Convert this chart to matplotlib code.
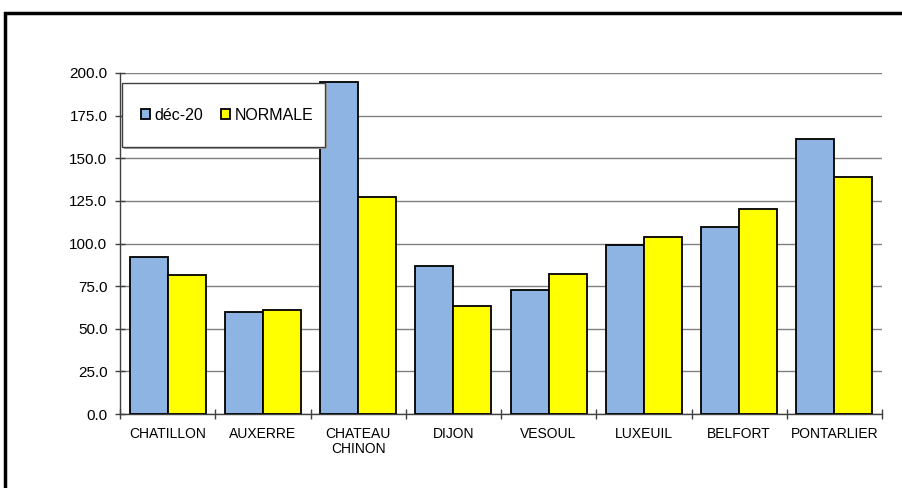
import matplotlib
matplotlib.use("Agg")
import matplotlib.pyplot as plt
import numpy as np
from matplotlib.patches import Rectangle
from matplotlib.ticker import FixedLocator, FormatStrFormatter

plt.rcParams['font.family'] = ['Liberation Sans', 'DejaVu Sans']

categories = ["CHATILLON", "AUXERRE", "CHATEAU\nCHINON", "DIJON", "VESOUL", "LUXEUIL", "BELFORT", "PONTARLIER"]
dec20 = [92.3, 59.8, 194.7, 86.8, 72.7, 99.3, 109.5, 161.5]
normale = [81.3, 61.0, 127.4, 63.3, 82.1, 104.0, 120.0, 139.2]
series_names = ["déc-20", "NORMALE"]
yticks = [0, 25, 50, 75, 100, 125, 150, 175, 200]

W, H = 902, 488
fig = plt.figure(figsize=(W / 100, H / 100), dpi=100)
ax = fig.add_axes([120 / W, 1 - 414 / H, (882 - 120) / W, (414 - 73) / H])

x = np.arange(len(categories))
bw = 0.4
ax.bar(x - bw / 2, dec20, bw, color="#8EB4E3", edgecolor="black", linewidth=1.3, label=series_names[0], zorder=3)
ax.bar(x + bw / 2, normale, bw, color="#FFFF00", edgecolor="black", linewidth=1.3, label=series_names[1], zorder=3)

ax.set_xlim(-0.5, len(categories) - 0.5)
ax.set_ylim(0, 200)
ax.set_yticks(yticks)
ax.yaxis.set_major_formatter(FormatStrFormatter("%.1f"))
ax.grid(axis="y", color="#808080", linewidth=1.0, zorder=0)
ax.set_axisbelow(True)

ax.set_xticks(x)
ax.set_xticklabels(categories, fontsize=10, linespacing=1.1)
ax.xaxis.set_minor_locator(FixedLocator(np.arange(-0.5, len(categories), 1.0)))
ax.tick_params(axis="x", which="major", length=0, pad=9)
ax.tick_params(axis="x", which="minor", direction="inout", length=7, width=1, color="#404040")
ax.tick_params(axis="y", direction="inout", length=7, width=1, color="#404040", labelsize=11, pad=5.5)

for s in ["top", "right"]:
    ax.spines[s].set_visible(False)
for s in ["left", "bottom"]:
    ax.spines[s].set_color("#404040")
    ax.spines[s].set_linewidth(1.0)

# legend box (drawn manually for exact padding)
bx0, bx1, by0, by1 = 122, 325, 83, 147
shadow = Rectangle(((bx0 + 1.5) / W, 1 - (by1 + 1.5) / H), (bx1 - bx0) / W, (by1 - by0) / H,
                   transform=fig.transFigure, facecolor="#A0A0A0", edgecolor="none", clip_on=False, zorder=5)
box = Rectangle((bx0 / W, 1 - by1 / H), (bx1 - bx0) / W, (by1 - by0) / H,
                transform=fig.transFigure, facecolor="white", edgecolor="#404040", linewidth=1.0,
                clip_on=False, zorder=5.5)
ax.add_patch(shadow)
ax.add_patch(box)

leg = ax.legend(loc="center", bbox_to_anchor=((bx0 + bx1) / 2 / W + 3.5 / W, 1 - (by0 + by1) / 2 / H),
                bbox_transform=fig.transFigure, ncol=2, fontsize=11.5,
                frameon=False, handlelength=0.58, handleheight=0.58, handletextpad=0.25,
                columnspacing=1.15, borderpad=0, borderaxespad=0)
leg.set_zorder(6)

# outer frame
fig.patches.append(Rectangle((5 / W, -0.2), 1.5, (488 - 13) / H + 0.2, transform=fig.transFigure,
                             fill=False, edgecolor="black", linewidth=2.5, clip_on=False))

fig.savefig("out.png", dpi=100)
